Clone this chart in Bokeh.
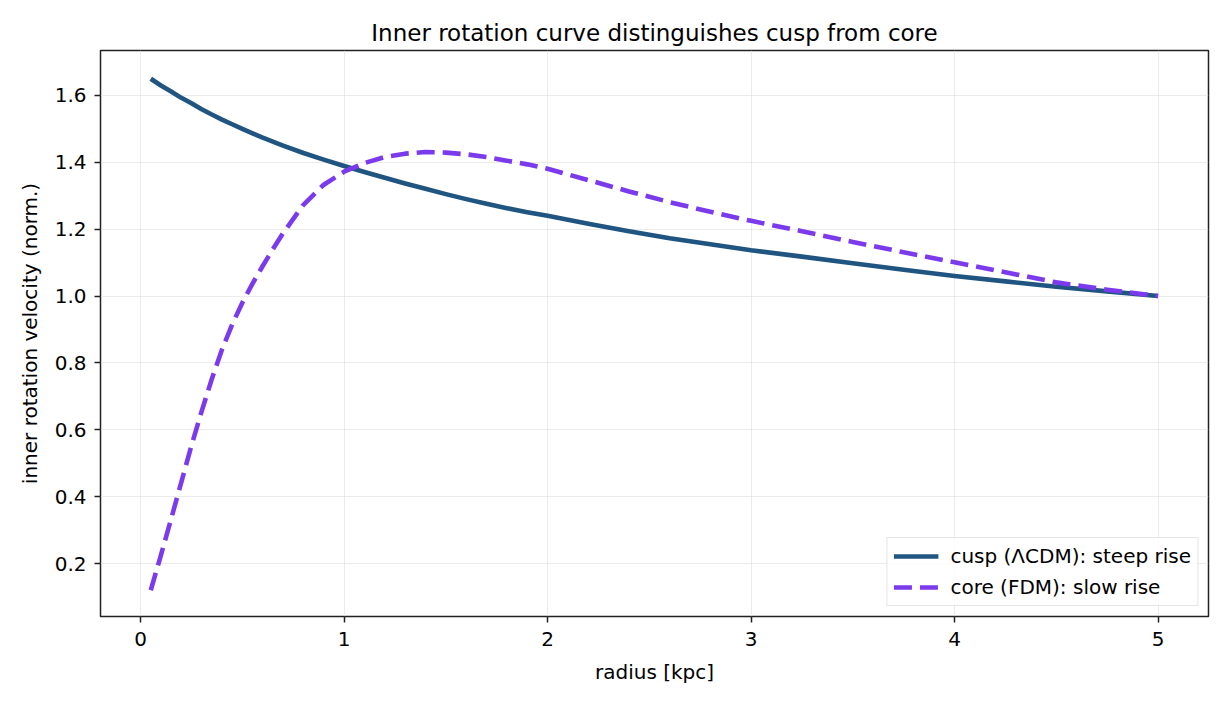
from bokeh.plotting import figure
from bokeh.models import Range1d, FixedTicker, Legend, LegendItem
from bokeh.embed import file_html
from bokeh.resources import INLINE

radius = [0.05, 0.1, 0.15, 0.2, 0.25, 0.3, 0.35, 0.4, 0.45, 0.5, 0.55, 0.6,
          0.65, 0.7, 0.8, 0.9, 1.0, 1.1, 1.2, 1.3, 1.4, 1.5, 1.6, 1.7, 1.8,
          1.9, 2.0, 2.2, 2.4, 2.6, 2.8, 3.0, 3.25, 3.5, 3.75, 4.0, 4.25, 4.5,
          4.75, 5.0]
cusp = [1.650, 1.630, 1.612, 1.593, 1.577, 1.559, 1.543, 1.528, 1.514, 1.500,
        1.487, 1.474, 1.462, 1.450, 1.428, 1.408, 1.389, 1.371, 1.354, 1.337,
        1.321, 1.305, 1.290, 1.276, 1.263, 1.251, 1.240, 1.216, 1.194, 1.173,
        1.155, 1.137, 1.118, 1.098, 1.079, 1.060, 1.044, 1.028, 1.014, 1.000]
core = [0.120, 0.225, 0.333, 0.443, 0.553, 0.655, 0.752, 0.840, 0.915, 0.980,
        1.037, 1.090, 1.140, 1.188, 1.273, 1.333, 1.372, 1.398, 1.416, 1.426,
        1.431, 1.429, 1.424, 1.416, 1.405, 1.394, 1.381, 1.347, 1.313, 1.281,
        1.252, 1.225, 1.194, 1.162, 1.131, 1.101, 1.071, 1.041, 1.019, 1.000]
x_ticks = [0, 1, 2, 3, 4, 5]
y_ticks = [0.2, 0.4, 0.6, 0.8, 1.0, 1.2, 1.4, 1.6]

FONT = "DejaVu Sans"

p = figure(width=1222, height=697, output_backend="svg", toolbar_location=None,
           x_range=Range1d(-0.197, 5.248), y_range=Range1d(0.0415, 1.7346),
           min_border_left=100, min_border_right=14, min_border_top=50,
           min_border_bottom=81,
           title="Inner rotation curve distinguishes cusp from core")

p.title.align = "center"
p.title.text_font = FONT
p.title.text_font_size = "23px"
p.title.text_font_style = "normal"
p.title.text_color = "#000000"

p.outline_line_color = "#222222"
p.outline_line_width = 1.5
p.background_fill_color = "white"
p.border_fill_color = "white"

for ax in (p.xaxis[0], p.yaxis[0]):
    ax.axis_line_color = None
    ax.major_tick_line_color = "#222222"
    ax.major_tick_line_width = 1.5
    ax.major_tick_out = 6
    ax.major_tick_in = 0
    ax.minor_tick_line_color = None
    ax.major_label_text_font = FONT
    ax.major_label_text_font_size = "20px"
    ax.major_label_text_color = "#000000"
    ax.axis_label_text_font = FONT
    ax.axis_label_text_font_size = "20px"
    ax.axis_label_text_font_style = "normal"
    ax.axis_label_text_color = "#000000"

p.xaxis.ticker = FixedTicker(ticks=x_ticks)
p.yaxis.ticker = FixedTicker(ticks=y_ticks)
p.xaxis.major_label_overrides = {t: str(t) for t in x_ticks}
p.yaxis.major_label_overrides = {t: f"{t:.1f}" for t in y_ticks}
p.xaxis.axis_label = "radius [kpc]"
p.yaxis.axis_label = "inner rotation velocity (norm.)"
p.xaxis.major_label_standoff = 9
p.yaxis.major_label_standoff = 8
p.xaxis.axis_label_standoff = 11
p.yaxis.axis_label_standoff = 10

p.grid.grid_line_color = "#dddddd"
p.grid.grid_line_alpha = 0.6
p.grid.grid_line_width = 1

r1 = p.line(radius, cusp, line_color="#1f5580", line_width=4.6,
            line_join="round")
r2 = p.line(radius, core, line_color="#7c3aed", line_width=4.6,
            line_dash="18 8", line_join="round")

legend = Legend(items=[LegendItem(label="cusp (ΛCDM): steep rise", renderers=[r1]),
                       LegendItem(label="core (FDM): slow rise", renderers=[r2])],
                location="bottom_right")
legend.label_text_font = FONT
legend.label_text_font_size = "20px"
legend.label_text_color = "#000000"
legend.glyph_width = 45
legend.glyph_height = 22
legend.label_height = 22
legend.label_standoff = 12
legend.spacing = 7
legend.padding = 6
legend.margin = 10
legend.border_line_color = "#cccccc"
legend.border_line_width = 1.2
legend.background_fill_alpha = 0.85
p.add_layout(legend)

open("out.html", "w").write(file_html(p, INLINE))
